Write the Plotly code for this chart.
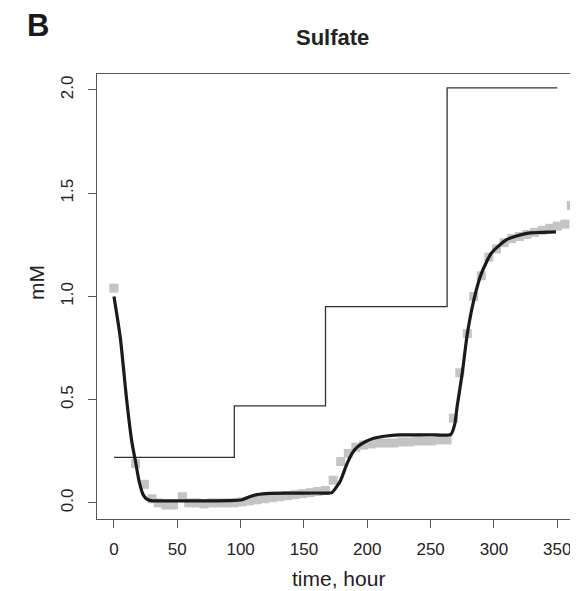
import plotly.graph_objects as go

# Observed sulfate (gray squares)
obs_time = [0, 17, 24, 30, 35, 41, 47, 54, 59, 65, 71, 77, 83, 89, 95, 101, 107, 113, 119,
            125, 131, 137, 143, 149, 155, 161, 167, 173, 179, 185, 191, 197, 203, 209, 215,
            221, 227, 233, 239, 245, 251, 257, 263, 268, 273, 279, 284, 290, 296, 302, 308,
            314, 320, 326, 332, 338, 344, 350, 356, 361]
obs_mM = [1.04, 0.19, 0.09, 0.02, 0.0, -0.01, -0.01, 0.03, 0.0, 0.0, -0.005, 0.0, 0.0, 0.0,
          0.0, 0.005, 0.01, 0.015, 0.02, 0.025, 0.03, 0.035, 0.04, 0.045, 0.05, 0.055, 0.06,
          0.11, 0.2, 0.24, 0.27, 0.28, 0.285, 0.29, 0.29, 0.29, 0.295, 0.295, 0.3, 0.3, 0.3,
          0.305, 0.305, 0.41, 0.63, 0.82, 1.0, 1.1, 1.19, 1.23, 1.26, 1.28, 1.29, 1.3, 1.31,
          1.32, 1.33, 1.34, 1.35, 1.44]

# Model fit (thick black curve)
fit_time = [0, 5, 10, 14, 17, 20, 23, 26, 30, 40, 60, 80, 95, 101, 107, 113, 123, 140, 160,
            172, 176, 179, 184, 188, 192, 198, 205, 215, 225, 250, 266, 269, 271, 275, 279,
            284, 290, 298, 310, 326, 349]
fit_mM = [1.0, 0.8, 0.5, 0.3, 0.2, 0.1, 0.04, 0.018, 0.01, 0.01, 0.01, 0.01, 0.012, 0.015,
          0.03, 0.04, 0.046, 0.047, 0.048, 0.05, 0.08, 0.11, 0.19, 0.24, 0.27, 0.295, 0.313,
          0.324, 0.329, 0.33, 0.332, 0.38, 0.47, 0.63, 0.82, 0.98, 1.11, 1.21, 1.275, 1.305,
          1.312]

# Input (feed) concentration steps
feed_time = [0, 95, 167, 263, 350]
feed_mM = [0.22, 0.47, 0.95, 2.01, 2.01]

x_ticks = [0, 50, 100, 150, 200, 250, 300, 350]
y_ticks = [0.0, 0.5, 1.0, 1.5, 2.0]
y_ticklabels = ["0.0", "0.5", "1.0", "1.5", "2.0"]

FONT = "Liberation Sans, Arial, sans-serif"

# page body has an 8px margin; figure is offset by it
OFF = 8
L, T, PW, PH = 97 - OFF, 74 - OFF, 476, 445


def px(xp):
    return (xp - OFF - L) / PW


def py(yp):
    return (T + PH - (yp - OFF)) / PH


fig = go.Figure()
fig.add_trace(go.Scatter(
    x=obs_time, y=obs_mM, mode="markers",
    marker=dict(symbol="square", size=9, color="#c4c4c4", line=dict(width=0)),
    showlegend=False, cliponaxis=True))
fig.add_trace(go.Scatter(
    x=feed_time, y=feed_mM, mode="lines", line=dict(color="#333333", width=1.3, shape="hv"),
    showlegend=False))
fig.add_trace(go.Scatter(
    x=fit_time, y=fit_mM, mode="lines",
    line=dict(color="#1a1a1a", width=3.2, shape="spline", smoothing=0.6),
    showlegend=False))

axis_common = dict(
    showgrid=False, zeroline=False, showline=True, mirror=True,
    linecolor="#555555", linewidth=1.3, ticks="outside", ticklen=8,
    tickcolor="#555555", tickwidth=1.3,
    tickfont=dict(family=FONT, size=17, color="#222222"),
)

fig.update_layout(
    width=578 - OFF, height=591 - OFF,
    margin=dict(l=L, r=578 - OFF - L - PW, t=T, b=591 - OFF - T - PH),
    paper_bgcolor="white", plot_bgcolor="white",
    xaxis=dict(range=[-13.4, 362.4], tickvals=x_ticks, ticklabelstandoff=6, **axis_common),
    yaxis=dict(range=[-0.078, 2.077], tickvals=y_ticks, ticktext=y_ticklabels,
               tickangle=-90, ticklabelstandoff=8, **axis_common),
    annotations=[
        dict(text="<b>B</b>", xref="paper", yref="paper", x=px(38), y=py(26),
             showarrow=False, font=dict(family=FONT, size=31, color="#1a1a1a"),
             xanchor="center", yanchor="middle"),
        dict(text="<b>Sulfate</b>", xref="paper", yref="paper", x=px(332), y=py(37),
             showarrow=False, font=dict(family=FONT, size=22, color="#222222"),
             xanchor="center", yanchor="middle"),
        dict(text="mM", xref="paper", yref="paper", x=px(36), y=py(283),
             showarrow=False, textangle=-90, font=dict(family=FONT, size=21, color="#222222"),
             xanchor="center", yanchor="middle"),
        dict(text="time, hour", xref="paper", yref="paper", x=px(338), y=py(578),
             showarrow=False, font=dict(family=FONT, size=21, color="#222222"),
             xanchor="center", yanchor="middle"),
    ],
)

fig.write_html("out.html")
